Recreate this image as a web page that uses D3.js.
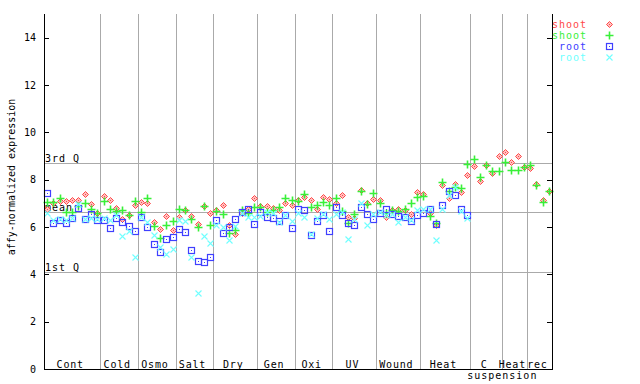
<!DOCTYPE html>
<html><head><meta charset="utf-8">
<script src="https://cdn.jsdelivr.net/npm/d3@7"></script>
<style>body{margin:0;background:#fff}svg{display:block}</style>
</head><body><svg id="c" width="640" height="384"></svg>
<script>
const categories = ["Cont","Cold","Osmo","Salt","Dry","Gen","Oxi","UV","Wound","Heat","C\nsuspension","Heat","rec"];
const categorySizes = [9,6,6,6,7,6,6,7,7,8,5,4,4];
const shoot1 = [6.75,7.0,7.10,7.10,7.14,7.14,7.39,6.97,6.6,7.31,7.14,6.79,6.32,6.49,6.92,7.04,7.00,6.21,5.90,6.45,5.87,6.41,6.70,6.45,6.13,6.88,6.61,6.73,6.93,6.10,5.69,6.6,6.75,7.21,6.9,6.89,6.8,6.73,7.00,6.92,7.14,7.25,7.14,6.77,7.28,7.17,7.00,7.35,6.44,6.38,7.56,7.03,7.17,7.14,6.43,6.72,6.75,6.7,6.53,7.48,7.38,6.6,6.09,7.77,7.21,7.82,7.48,8.2,8.57,7.93,8.61,8.27,9.0,9.16,8.73,9.0,8.52,8.48,7.80,7.13,7.52];
const shoot2 = [7.04,7.04,7.21,6.65,6.62,6.9,7.00,6.75,6.58,7.10,6.75,6.68,6.70,6.5,7.10,6.62,7.21,6.06,5.52,6.10,6.25,6.78,6.70,6.32,6.0,6.87,6.07,6.69,6.54,5.73,5.87,6.7,6.58,6.83,6.83,6.63,6.72,6.86,7.21,7.14,7.11,7.38,6.86,6.93,7.04,6.92,7.21,6.66,6.18,6.54,7.53,6.97,7.42,7.00,6.61,6.7,6.66,6.75,7.00,7.25,7.31,6.46,6.18,7.9,7.52,7.7,7.64,8.66,8.86,8.10,8.62,8.35,8.35,8.75,8.39,8.39,8.55,8.61,7.76,7.07,7.53];
const root1 = [7.42,6.16,6.28,6.16,6.37,6.79,6.34,6.54,6.31,6.31,5.97,6.37,6.20,6.03,5.82,6.41,5.99,5.27,4.94,5.48,5.56,5.90,5.79,5.03,4.56,4.51,4.72,6.29,5.73,5.99,6.32,6.62,6.75,6.11,6.62,6.42,6.37,6.24,6.49,5.94,6.77,6.70,5.66,6.24,6.51,5.82,6.86,6.49,6.16,6.07,6.83,6.54,6.35,6.58,6.77,6.55,6.45,6.41,6.27,6.49,6.58,6.75,6.11,6.92,7.52,7.34,6.78,6.49,null,null,null,null,null,null,null,null,null,null,null,null,null];
const root2 = [6.6,6.30,6.32,6.30,6.4,6.97,6.35,6.37,6.35,6.37,6.3,6.5,5.60,5.81,4.72,6.44,6.23,5.65,5.17,4.85,5.06,6.3,6.25,4.72,3.23,5.60,5.31,6.07,6.0,5.45,6.05,6.6,6.44,6.44,6.46,6.64,6.6,6.22,6.49,6.27,6.6,6.41,5.7,6.39,6.55,6.32,6.54,6.63,5.48,6.32,7.00,6.08,6.54,6.63,6.5,6.55,6.21,6.41,6.3,6.72,6.75,6.77,5.45,6.77,7.35,7.68,6.68,6.38,null,null,null,null,null,null,null,null,null,null,null,null,null];
const statValues = [8.69, 6.62, 4.09];
const statLabels = ["3rd Q","mean","1st Q"];
const yTicks = [0,2,4,6,8,10,12,14];
const legendLabels = ["shoot","shoot","root","root"];
const seriesColors = ["#ff4848","#38f038","#4040ff","#70ffff"];
const seriesShapes = ["diamond","plus","square","cross"];

const svg = d3.select("#c");
const FONT = "'DejaVu Sans Mono', monospace";
const L = 44, R = 552, T = 14, B = 369;
const n = shoot1.length;
const x = d3.scaleBand().domain(d3.range(n)).range([L, R]);
const px = i => x(i) + x.bandwidth()/2;
const y = d3.scaleLinear().domain([0, 15]).range([B, T]);
const grid = "#aaaaaa";

const starts = [];
let acc = 0;
categorySizes.forEach(s => { starts.push(acc); acc += s; });

svg.append("g").attr("shape-rendering", "crispEdges").selectAll("line").data(starts.slice(1)).join("line")
  .attr("x1", d => Math.round(x(d)) + 0.5).attr("x2", d => Math.round(x(d)) + 0.5)
  .attr("y1", T).attr("y2", B).attr("stroke", grid).attr("stroke-width", 1);

svg.append("g").attr("shape-rendering", "crispEdges").selectAll("line").data(statValues).join("line")
  .attr("x1", L).attr("x2", R)
  .attr("y1", d => Math.round(y(d)) + 0.5).attr("y2", d => Math.round(y(d)) + 0.5)
  .attr("stroke", grid).attr("stroke-width", 1);
svg.append("g").selectAll("text").data(statValues).join("text")
  .attr("x", L + 1).attr("y", d => Math.round(y(d)) - 1.5)
  .attr("font-family", FONT).attr("font-size", 10).attr("letter-spacing", 1)
  .attr("fill", "#000").text((d, i) => statLabels[i]);

function drawMarker(g, shape, color, cx, cy) {
  cx = Math.round(cx) + 0.5; cy = Math.round(cy) + 0.5;
  if (shape === "diamond") {
    g.append("path").attr("d", `M${cx},${cy-3}L${cx+3},${cy}L${cx},${cy+3}L${cx-3},${cy}Z`)
      .attr("fill", "#ffc0c0").attr("stroke", color).attr("stroke-width", 1);
    g.append("rect").attr("x", cx-0.5).attr("y", cy-0.5).attr("width", 1).attr("height", 1).attr("fill", color);
  } else if (shape === "plus") {
    g.append("path").attr("d", `M${cx-4},${cy}H${cx+4}M${cx},${cy-4}V${cy+4}`)
      .attr("stroke", color).attr("stroke-width", 1.6).attr("fill", "none");
  } else if (shape === "square") {
    g.append("rect").attr("x", cx-3).attr("y", cy-3).attr("width", 6).attr("height", 6)
      .attr("fill", "none").attr("stroke", color).attr("stroke-width", 1.2);
    g.append("rect").attr("x", cx-0.5).attr("y", cy-0.5).attr("width", 1).attr("height", 1).attr("fill", color);
  } else {
    g.append("path").attr("d", `M${cx-3},${cy-3}L${cx+3},${cy+3}M${cx-3},${cy+3}L${cx+3},${cy-3}`)
      .attr("stroke", color).attr("stroke-width", 1.1).attr("fill", "none");
  }
}
const allSeries = [shoot1, shoot2, root1, root2];
allSeries.forEach((s, k) => {
  const g = svg.append("g");
  s.forEach((v, i) => { if (v != null) drawMarker(g, seriesShapes[k], seriesColors[k], px(i), y(v)); });
});

svg.append("path").attr("d", `M${L+0.5},${T}V${B+0.5}H${R+0.5}V${T}`)
  .attr("fill", "none").attr("stroke", "#000").attr("stroke-width", 1).attr("shape-rendering", "crispEdges");
svg.append("g").attr("shape-rendering", "crispEdges").selectAll("line").data(yTicks).join("line")
  .attr("x1", L).attr("x2", L + 5)
  .attr("y1", d => Math.round(y(d)) + 0.5).attr("y2", d => Math.round(y(d)) + 0.5)
  .attr("stroke", "#000");
svg.append("g").attr("shape-rendering", "crispEdges").selectAll("line").data(yTicks).join("line")
  .attr("x1", R - 5).attr("x2", R + 1)
  .attr("y1", d => Math.round(y(d)) + 0.5).attr("y2", d => Math.round(y(d)) + 0.5)
  .attr("stroke", "#000");
svg.append("g").selectAll("text").data(yTicks).join("text")
  .attr("x", 36).attr("y", d => y(d) + 3.5).attr("text-anchor", "end")
  .attr("font-family", FONT).attr("font-size", 10).text(d => d);

svg.append("text").attr("transform", "translate(15,177) rotate(-90)")
  .attr("text-anchor", "middle").attr("font-family", FONT).attr("font-size", 10)
  .text("affy-normalized expression");

categories.forEach((c, k) => {
  const s0 = x(starts[k]);
  const s1 = x(starts[k] + categorySizes[k] - 1) + x.bandwidth();
  const lines = c.split("\n");
  svg.append("text").attr("x", (s0 + s1)/2 - 2).attr("y", 367.5)
    .attr("text-anchor", "middle").attr("font-family", FONT).attr("font-size", 10)
    .attr("letter-spacing", 0.8).text(lines[0]);
  if (lines[1]) {
    svg.append("text").attr("x", s1 + 0.5).attr("y", 378.5)
      .attr("text-anchor", "middle").attr("font-family", FONT).attr("font-size", 10)
      .attr("letter-spacing", 1).text(lines[1]);
  }
});

legendLabels.forEach((lab, k) => {
  const cy = 24 + k * 11;
  svg.append("text").attr("x", 587).attr("y", cy + 3.5).attr("text-anchor", "end")
    .attr("font-family", FONT).attr("font-size", 10).attr("letter-spacing", 1)
    .attr("fill", seriesColors[k]).text(lab);
  drawMarker(svg.append("g"), seriesShapes[k], seriesColors[k], 609, cy);
});
</script></body></html>
